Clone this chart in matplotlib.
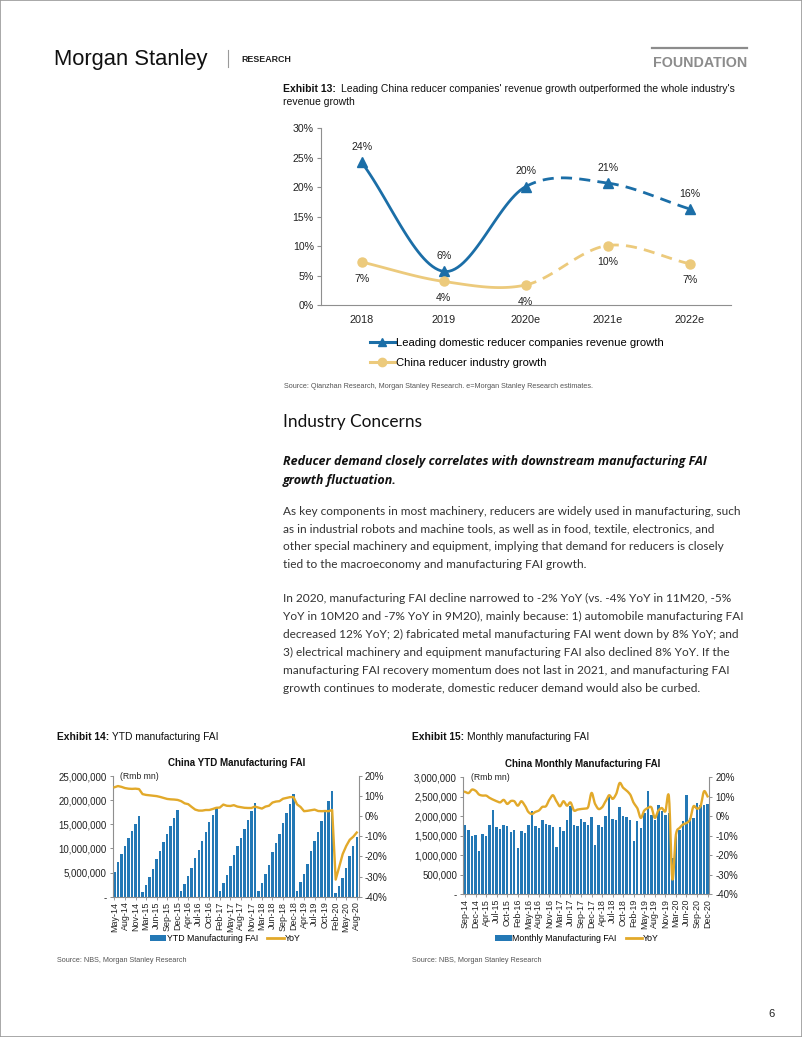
import numpy as np
import matplotlib
matplotlib.use("Agg")
import matplotlib.pyplot as plt
from matplotlib.lines import Line2D
from matplotlib.patches import Patch, Rectangle

W, H = 802, 1037

# ---- Exhibit 13: revenue growth (%) ----
years = ["2018", "2019", "2020e", "2021e", "2022e"]
leading_growth = [24.2, 5.7, 20.1, 20.7, 16.3]
leading_labels = ["24%", "6%", "20%", "21%", "16%"]
industry_growth = [7.3, 4.0, 3.4, 10.1, 7.0]
industry_labels = ["7%", "4%", "4%", "10%", "7%"]

# ---- Exhibit 14: YTD manufacturing FAI (Rmb mn, millions) and YoY (%) ----
ytd_ticklabels = ["May-14", "Aug-14", "Nov-14", "Mar-15", "Jun-15", "Sep-15", "Dec-15",
                  "Apr-16", "Jul-16", "Oct-16", "Feb-17", "May-17", "Aug-17", "Nov-17",
                  "Mar-18", "Jun-18", "Sep-18", "Dec-18", "Apr-19", "Jul-19", "Oct-19",
                  "Feb-20", "May-20", "Aug-20"]
ytd_fai = [5.2, 7.2, 8.8, 10.4, 12.1, 13.7, 15.1, 16.7,
           1.0, 2.5, 4.0, 5.8, 7.9, 9.5, 11.3, 13.0, 14.7, 16.4, 18.0,
           1.1, 2.7, 4.2, 5.9, 8.1, 9.7, 11.6, 13.5, 15.4, 17.0, 18.5,
           1.1, 2.8, 4.4, 6.3, 8.7, 10.4, 12.2, 14.1, 15.8, 17.7, 19.4,
           1.1, 2.8, 4.7, 6.6, 9.2, 11.1, 13.0, 15.3, 17.3, 19.3, 21.2,
           1.2, 3.0, 4.8, 6.8, 9.4, 11.5, 13.4, 15.6, 17.6, 19.8, 21.9,
           0.8, 2.3, 3.9, 5.9, 8.4, 10.4, 12.3]
ytd_yoy = [14.4, 15.0, 14.6, 14.0, 13.7, 13.6, 13.7, 13.5,
           11.0, 10.6, 10.4, 10.2, 10.0, 9.6, 9.1, 8.6, 8.4, 8.3, 8.1,
           7.5, 6.4, 6.0, 4.6, 3.3, 2.8, 2.8, 3.1, 3.1, 3.6, 4.2,
           4.3, 5.8, 5.2, 5.1, 5.5, 4.8, 4.5, 4.2, 4.1, 4.1, 4.8,
           4.3, 3.8, 4.8, 5.2, 6.8, 7.3, 7.5, 8.7, 9.1, 9.5, 9.5,
           5.9, 4.6, 2.5, 2.7, 3.0, 3.3, 2.6, 2.5, 2.6, 2.5, 3.1,
           -31.5, -25.2, -18.8, -14.8, -11.7, -10.2, -8.1]

# ---- Exhibit 15: monthly manufacturing FAI (Rmb mn, millions) and YoY (%) ----
monthly_ticklabels = ["Sep-14", "Dec-14", "Apr-15", "Jul-15", "Oct-15", "Feb-16", "May-16",
                      "Aug-16", "Nov-16", "Mar-17", "Jun-17", "Sep-17", "Dec-17", "Apr-18",
                      "Jul-18", "Oct-18", "Feb-19", "May-19", "Aug-19", "Nov-19", "Mar-20",
                      "Jun-20", "Sep-20", "Dec-20"]
monthly_fai = [1.77, 1.65, 1.48, 1.51,
               1.10, 1.53, 1.48, 1.77, 2.16, 1.71, 1.67, 1.78, 1.74, 1.59, 1.65,
               1.18, 1.62, 1.57, 1.78, 2.14, 1.74, 1.70, 1.89, 1.80, 1.77, 1.71,
               1.22, 1.71, 1.61, 1.89, 2.25, 1.77, 1.74, 1.93, 1.85, 1.78, 1.98,
               1.27, 1.78, 1.72, 2.01, 2.51, 1.94, 1.89, 2.24, 2.01, 1.98, 1.91,
               1.35, 1.87, 1.70, 2.08, 2.64, 2.04, 1.89, 2.28, 2.13, 2.04, 2.07,
               0.92, 1.48, 1.65, 1.87, 2.55, 1.95, 1.95, 2.35, 2.28, 2.30, 2.31]
monthly_yoy = [12.5, 11.9, 13.7, 13.1,
               11.1, 10.6, 10.6, 9.4, 8.5, 7.7, 7.1, 8.4, 6.3, 7.8, 7.7,
               5.4, 7.7, 5.6, 2.2, 1.1, 2.2, 2.9, 4.8, 5.1, 8.5, 10.8,
               7.7, 5.1, 7.7, 5.4, 7.1, 2.9, 3.4, 3.7, 3.9, 4.6, 12.0,
               6.3, 3.7, 4.6, 7.7, 10.8, 8.9, 11.4, 17.1, 14.6, 13.1, 11.1,
               6.8, 4.2, -0.9, 2.9, 4.2, 4.6, -0.9, 2.9, 4.2, 2.5, 10.2,
               -32.6, -9.5, -6.1, -4.3, -3.5, -1.8, 5.1, 3.9, 5.1, 12.8, 10.2]

BLUE = "#1b6ea7"
SAND = "#ecca7c"
BAR = "#2378b5"
GOLD = "#e2a92a"
SPINE = "#8f8f8f"
TXT = "#222222"
CHART_FONT = ["Liberation Sans", "DejaVu Sans"]
BODY_FONT = ["Lato", "DejaVu Sans"]
SUB_FONT = ["Open Sans", "DejaVu Sans"]


def axes_px(fig, l, t, r, b):
    return fig.add_axes([l / W, 1 - b / H, (r - l) / W, (b - t) / H])


def fx(x):
    return x / W


def fy(y):
    return 1 - y / H


def spline_segments(ys, tension=0.0, n=30):
    # cardinal spline through the points, like Excel's smoothed line
    ys = np.asarray(ys, float)
    k = len(ys)
    m = np.zeros(k)
    for i in range(k):
        a, b = max(i - 1, 0), min(i + 1, k - 1)
        m[i] = (1 - tension) * (ys[b] - ys[a]) / (b - a)
    segs = []
    t = np.linspace(0, 1, n)
    h00 = 2 * t**3 - 3 * t**2 + 1
    h10 = t**3 - 2 * t**2 + t
    h01 = -2 * t**3 + 3 * t**2
    h11 = t**3 - t**2
    for i in range(k - 1):
        yy = h00 * ys[i] + h10 * m[i] + h01 * ys[i + 1] + h11 * m[i + 1]
        segs.append((i + t, yy))
    return segs


def style_spines(ax, left=True, right=False):
    for s in ["top", "right", "left", "bottom"]:
        ax.spines[s].set_visible(False)
    ax.spines["bottom"].set_visible(True)
    ax.spines["bottom"].set_color(SPINE)
    ax.spines["bottom"].set_linewidth(0.8)
    if left:
        ax.spines["left"].set_visible(True)
        ax.spines["left"].set_color(SPINE)
        ax.spines["left"].set_linewidth(0.8)
    if right:
        ax.spines["right"].set_visible(True)
        ax.spines["right"].set_color(SPINE)
        ax.spines["right"].set_linewidth(0.8)


def mixed_title(fig, x, y, bold, rest, size, family, gap=5):
    r = fig.canvas.get_renderer()
    t = fig.text(fx(x), fy(y), bold, fontsize=size, fontweight="bold",
                 family=family, color="#111111", va="baseline")
    bb = t.get_window_extent(renderer=r)
    fig.text(bb.x1 / fig.dpi / fig.get_figwidth() + gap / W, fy(y), rest, fontsize=size,
             family=family, color="#111111", va="baseline")


fig = plt.figure(figsize=(W / 100, H / 100), dpi=100)
fig.patch.set_facecolor("white")

# page frame
fig.add_artist(Rectangle((0, 0), 1, 1, transform=fig.transFigure, fill=False,
                         edgecolor="#9a9a9a", lw=1.2))

# ---- header ----
fig.text(fx(54), fy(65), "Morgan Stanley", fontsize=15.8, family=CHART_FONT,
         color="#111111", va="baseline")
fig.add_artist(Line2D([fx(228), fx(228)], [fy(50), fy(67)], color="#9a9a9a", lw=0.8))
fig.text(fx(241.5), fy(61.7), "RESEARCH", fontsize=6.4, fontweight="bold",
         family=CHART_FONT, color="#222222", va="baseline")
fig.add_artist(Line2D([fx(652), fx(747)], [fy(48.2), fy(48.2)], color="#8c8c8c", lw=1.6))
fig.text(fx(747), fy(67.3), "FOUNDATION", fontsize=10.3, fontweight="bold",
         family=CHART_FONT, color="#8c8c8c", va="baseline", ha="right")

# ---- Exhibit 13 ----
mixed_title(fig, 283, 91.5, "Exhibit 13:",
            "Leading China reducer companies' revenue growth outperformed the whole industry's",
            7.5, CHART_FONT, gap=5)
fig.text(fx(283), fy(105), "revenue growth", fontsize=7.5, family=CHART_FONT,
         color="#111111", va="baseline")

ax1 = axes_px(fig, 320.7, 128.3, 730.7, 305)
x1 = np.arange(len(years))
for vals, col, mk, labs, off in [(leading_growth, BLUE, "^", leading_labels, 11),
                                 (industry_growth, SAND, "o", industry_labels, -12)]:
    segs = spline_segments(vals)
    for i, (sx, sy) in enumerate(segs):
        if i < 2:
            ax1.plot(sx, sy, color=col, lw=2.0, solid_capstyle="round", zorder=3)
        else:
            ax1.plot(sx, sy, color=col, lw=2.0, dashes=(4, 2.6), zorder=3)
    ax1.plot(x1, vals, ls="none", marker=mk, ms=6.5, color=col, zorder=4)
    for xi, v, lab in zip(x1, vals, labs):
        ax1.annotate(lab, (xi, v), xytext=(0, off), textcoords="offset points",
                     ha="center", va="center", fontsize=7.6, family=CHART_FONT, color=TXT)
ax1.set_xlim(-0.5, len(years) - 0.5)
ax1.set_ylim(0, 30)
ax1.set_yticks(np.arange(0, 31, 5))
ax1.set_yticklabels([f"{v}%" for v in range(0, 31, 5)])
ax1.set_xticks(x1)
ax1.set_xticklabels(years)
style_spines(ax1)
ax1.tick_params(axis="y", length=3, width=0.8, color=SPINE, labelsize=7.6, pad=2, labelcolor=TXT)
ax1.tick_params(axis="x", length=0, labelsize=7.8, pad=7, labelcolor=TXT)
for lab in ax1.get_xticklabels() + ax1.get_yticklabels():
    lab.set_family(CHART_FONT)
ax1.set_facecolor("none")

h1 = [Line2D([], [], color=BLUE, lw=2.2, marker="^", ms=6),
      Line2D([], [], color=SAND, lw=2.2, marker="o", ms=6)]
fig.legend(h1, ["Leading domestic reducer companies revenue growth", "China reducer industry growth"],
           loc="upper left", bbox_to_anchor=(fx(370), fy(338)), frameon=False,
           prop={"family": CHART_FONT, "size": 8.1}, handlelength=2.2, handletextpad=0.15,
           labelspacing=0.9, borderaxespad=0, borderpad=0)

fig.text(fx(284), fy(388.5), "Source: Qianzhan Research, Morgan Stanley Research. "
         "e=Morgan Stanley Research estimates.", fontsize=5.2, family=CHART_FONT,
         color="#555555", va="baseline")

# ---- body text ----
fig.text(fx(283), fy(427), "Industry Concerns", fontsize=12.4,
         family=BODY_FONT, color="#111111", va="baseline")
sub = ["Reducer demand closely correlates with downstream manufacturing FAI",
       "growth fluctuation."]
for i, s in enumerate(sub):
    fig.text(fx(283), fy(465 + 18.7 * i), s, fontsize=9.0, fontweight="bold",
             style="italic", family=SUB_FONT, color="#111111", va="baseline")
para1 = ["As key components in most machinery, reducers are widely used in manufacturing, such",
         "as in industrial robots and machine tools, as well as in food, textile, electronics, and",
         "other special machinery and equipment, implying that demand for reducers is closely",
         "tied to the macroeconomy and manufacturing FAI growth."]
para2 = ["In 2020, manufacturing FAI decline narrowed to -2% YoY (vs. -4% YoY in 11M20, -5%",
         "YoY in 10M20 and -7% YoY in 9M20), mainly because: 1) automobile manufacturing FAI",
         "decreased 12% YoY; 2) fabricated metal manufacturing FAI went down by 8% YoY; and",
         "3) electrical machinery and equipment manufacturing FAI also declined 8% YoY. If the",
         "manufacturing FAI recovery momentum does not last in 2021, and manufacturing FAI",
         "growth continues to moderate, domestic reducer demand would also be curbed."]
for i, s in enumerate(para1):
    fig.text(fx(283), fy(514.5 + 17.95 * i), s, fontsize=8.6, family=BODY_FONT,
             color="#333333", va="baseline")
for i, s in enumerate(para2):
    fig.text(fx(283), fy(602.5 + 17.95 * i), s, fontsize=8.6, family=BODY_FONT,
             color="#333333", va="baseline")


# ---- bar + yoy charts ----
def fai_chart(box, vals, yoy, ticklabels, ymax, ystep, title, title_x, legend_x, bar_label,
              smooth_line):
    ax = axes_px(fig, *box)
    x = np.arange(len(vals))
    ax.bar(x, np.array(vals) * 1e6, width=0.7, color=BAR, zorder=2)
    ax.set_xlim(-0.5, len(vals) - 0.5)
    ax.set_ylim(0, ymax)
    ticks = np.arange(0, ymax + 1, ystep)
    ax.set_yticks(ticks)
    ax.set_yticklabels(["-" if t == 0 else f"{t:,.0f}" for t in ticks])
    ax.set_xticks(x[::3])
    ax.set_xticklabels(ticklabels, rotation=90)
    style_spines(ax, left=True, right=True)
    ax.tick_params(axis="y", length=2.5, width=0.7, color=SPINE, labelsize=7, pad=2,
                   labelcolor=TXT)
    ax.tick_params(axis="x", length=2, width=0.6, color=SPINE, labelsize=6.4, pad=1.5,
                   labelcolor=TXT)
    for lab in ax.get_xticklabels() + ax.get_yticklabels():
        lab.set_family(CHART_FONT)
    ax2 = ax.twinx()
    if smooth_line:
        segs = spline_segments(yoy, tension=0.2, n=8)
        xs = np.concatenate([s[0] for s in segs])
        ys = np.concatenate([s[1] for s in segs])
        ax2.plot(xs, ys, color=GOLD, lw=1.7, zorder=3)
    else:
        ax2.plot(x, yoy, color=GOLD, lw=1.7, zorder=3)
    ax2.set_ylim(-40, 20)
    ax2.set_yticks(np.arange(-40, 21, 10))
    ax2.set_yticklabels([f"{v}%" for v in range(-40, 21, 10)])
    for s in ["top", "left", "bottom", "right"]:
        ax2.spines[s].set_visible(False)
    ax2.tick_params(axis="y", length=2.5, width=0.7, color=SPINE, labelsize=7, pad=2,
                    labelcolor=TXT)
    for lab in ax2.get_yticklabels():
        lab.set_family(CHART_FONT)
    ax.text(0.03, 0.995, "(Rmb mn)", transform=ax.transAxes, fontsize=6.2,
            family=CHART_FONT, color=TXT, va="center", ha="left")
    top = box[1]
    fig.text(fx(title_x), fy(top - 13.5), title, fontsize=7, fontweight="bold",
             family=CHART_FONT, color="#111111", ha="center", va="center")
    hh = [Patch(facecolor=BAR, edgecolor="none"), Line2D([], [], color=GOLD, lw=2)]
    fig.legend(hh, [bar_label, "YoY"], loc="center", bbox_to_anchor=(fx(legend_x), fy(938.5)),
               ncol=2, frameon=False, prop={"family": CHART_FONT, "size": 6.3},
               handlelength=1.9, handleheight=0.6, handletextpad=0.1, columnspacing=1.0,
               borderaxespad=0, borderpad=0)
    return ax


mixed_title(fig, 57, 740.5, "Exhibit 14:", "YTD manufacturing FAI", 7.4, CHART_FONT, gap=3)
fai_chart((112.7, 776, 358.5, 896.7), ytd_fai, ytd_yoy, ytd_ticklabels, 25e6, 5e6,
          "China YTD Manufacturing FAI", 237, 225, "YTD Manufacturing FAI", False)
fig.text(fx(57), fy(961.5), "Source: NBS, Morgan Stanley Research", fontsize=5.2,
         family=CHART_FONT, color="#555555", va="baseline")

mixed_title(fig, 411.5, 740.5, "Exhibit 15:", "Monthly manufacturing FAI", 7.4, CHART_FONT, gap=3)
fai_chart((463.3, 777.3, 709.3, 894), monthly_fai, monthly_yoy, monthly_ticklabels, 3e6, 5e5,
          "China Monthly Manufacturing FAI", 583, 577, "Monthly Manufacturing FAI", True)
fig.text(fx(411.5), fy(961.5), "Source: NBS, Morgan Stanley Research", fontsize=5.2,
         family=CHART_FONT, color="#555555", va="baseline")

fig.text(fx(775), fy(1017), "6", fontsize=8, family=CHART_FONT, color="#222222",
         va="baseline", ha="right")

fig.savefig("out.png", dpi=100)
